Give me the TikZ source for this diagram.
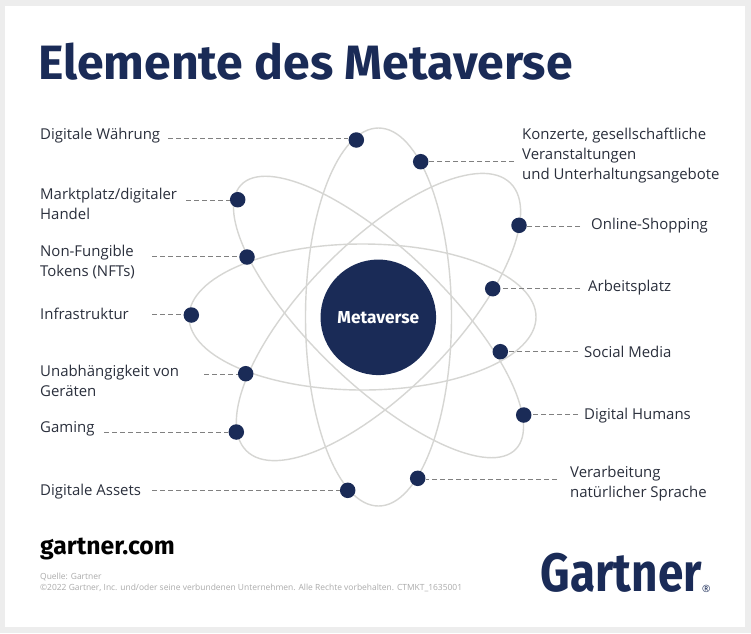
\documentclass[tikz,border=0pt]{standalone}
\usepackage{fontspec}
\setmainfont{Liberation Sans}
\newfontfamily\titlefont{Fira Sans}[UprightFont=* SemiBold,BoldFont=* Bold]
\newfontfamily\labelfont{Open Sans}
\definecolor{navy}{HTML}{1A2B57}
\definecolor{frame}{HTML}{EDEDED}
\definecolor{orbit}{HTML}{D6D6D3}
\definecolor{ink}{HTML}{2A2F3C}
\definecolor{dashc}{HTML}{808080}
\definecolor{foot}{HTML}{ABABAB}
\tikzset{
 x=1pt,y=-1pt,
 orbitline/.style={draw=orbit,line width=1.4pt},
 dot/.style={circle,fill=navy,minimum size=15.5pt,inner sep=0pt},
 lead/.style={draw=dashc,line width=0.9pt,dash pattern=on 5pt off 3pt},
 lbl/.style={font=\labelfont\fontsize{14.95}{20}\selectfont,text=ink,align=left,inner sep=0pt,anchor=west},
}
\begin{document}
\begin{tikzpicture}
\useasboundingbox (0,0) rectangle (751,633);
\fill[frame] (0,0) rectangle (751,633);
\fill[white] (5,6) rectangle (745,627);
% orbits
\coordinate (c) at (378.5,317);
\coordinate (ch) at (362.5,317);
\draw[orbitline] (c) ellipse [x radius=73,y radius=189];
\draw[orbitline] (ch) ellipse [x radius=173.5,y radius=73];
\draw[orbitline,rotate around={45.4:(c)}] (c) ellipse [x radius=188,y radius=74];
\draw[orbitline,rotate around={-43.9:(c)}] (c) ellipse [x radius=190.6,y radius=67];
\node[circle,fill=navy,minimum size=115.5pt,inner sep=0pt,text=white,font=\titlefont\bfseries\fontsize{17.3}{20}\selectfont] (hub) at (378.3,317.3) {\raisebox{-3pt}{Metaverse}};
% free ends
\coordinate (f1) at (168,138.3);
\coordinate (f2) at (514,161.6);
\coordinate (f3) at (186,200);
\coordinate (f4) at (580,226);
\coordinate (f5) at (152,256.5);
\coordinate (f6) at (580,288.6);
\coordinate (f7) at (152,314);
\coordinate (f8) at (578,351);
\coordinate (f9) at (204,374);
\coordinate (f10) at (578,414);
\coordinate (f11) at (104,432.6);
\coordinate (f12) at (557,479);
\coordinate (f13) at (152,490);
% dots
\node[dot] (d1) at (356.3,140) {};
\node[dot] (d2) at (420.7,161.7) {};
\node[dot] (d3) at (237.7,199.7) {};
\node[dot] (d4) at (519,225.3) {};
\node[dot] (d5) at (247,257) {};
\node[dot] (d6) at (492.7,288.7) {};
\node[dot] (d7) at (191.3,315) {};
\node[dot] (d8) at (500.3,351.7) {};
\node[dot] (d9) at (245.7,373.7) {};
\node[dot] (d10) at (523.7,415) {};
\node[dot] (d11) at (236.3,432) {};
\node[dot] (d12) at (417.7,478.3) {};
\node[dot] (d13) at (347.7,490.3) {};
\foreach \i in {1,3,5,7,9,11,13} \draw[lead] (f\i) -- (f\i -| d\i.west);
\foreach \i in {2,4,6,8,10,12} \draw[lead] (f\i) -- (f\i -| d\i.east);
% labels
\node[lbl] (l1) at (40,135.5) {Digitale Währung};
\node[lbl] (l2) at (522,155.5) {Konzerte, gesellschaftliche\\Veranstaltungen\\und Unterhaltungsangebote};
\node[lbl] (l3) at (40,204) {Marktplatz/digitaler\\Handel};
\node[lbl] (l4) at (591,225.5) {Online-Shopping};
\node[lbl] (l5) at (40,262) {Non-Fungible\\Tokens (NFTs)};
\node[lbl] (l6) at (588,287.5) {Arbeitsplatz};
\node[lbl] (l7) at (40,313.5) {Infrastruktur};
\node[lbl] (l8) at (584,351.5) {Social Media};
\node[lbl] (l9) at (40,381) {Unabhängigkeit von\\Geräten};
\node[lbl] (l10) at (584,415.5) {Digital Humans};
\node[lbl] (l11) at (40,429) {Gaming};
\node[lbl] (l12) at (570,483.5) {Verarbeitung\\natürlicher Sprache};
\node[lbl] (l13) at (40,491.5) {Digitale Assets};
% title and footer
\node[font=\titlefont\bfseries\fontsize{48.2}{50}\selectfont,text=navy,inner sep=0pt,anchor=base west] (title) at (38,79) {Elemente des Metaverse};
\node[font=\titlefont\bfseries\fontsize{24.8}{26}\selectfont,text=black,inner sep=0pt,anchor=base west] (web) at (40,554) {gartner.com};
\node[font=\labelfont\fontsize{8.45}{11}\selectfont,text=foot,align=left,inner sep=0pt,anchor=north west] (src) at (40,573) {Quelle: Gartner\\©2022 Gartner, Inc. und/oder seine verbundenen Unternehmen. Alle Rechte vorbehalten. CTMKT\_1635001};
\node[font=\titlefont\bfseries\fontsize{54}{54}\selectfont,text=navy,inner sep=0pt,anchor=base west] (logo) at (540.5,591) {\scalebox{0.85}[1]{Gartner}};
\node[font=\labelfont\fontsize{10}{10}\selectfont,text=navy,inner sep=0pt,anchor=base west] (reg) at (702,592.5) {®};
\end{tikzpicture}
\end{document}
